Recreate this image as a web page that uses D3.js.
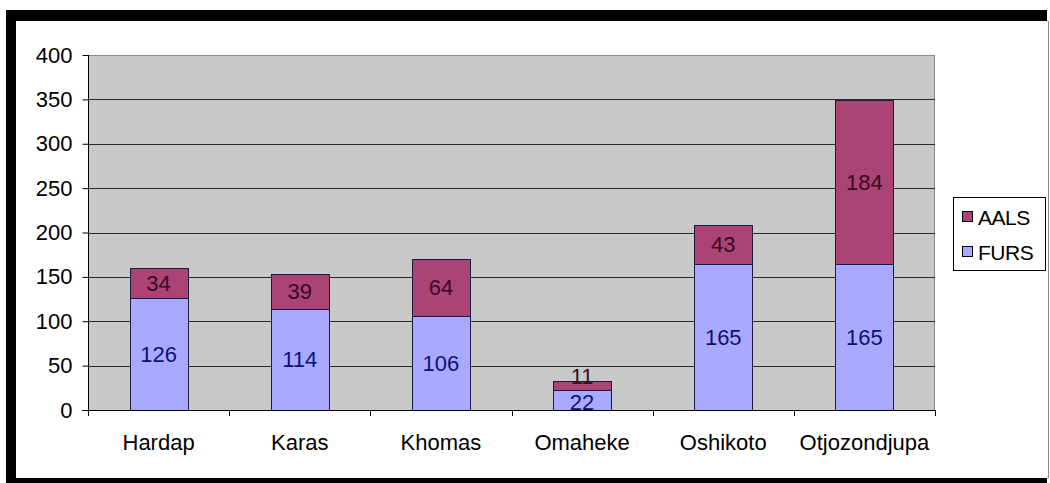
<!DOCTYPE html>
<html><head><meta charset="utf-8">
<script src="https://cdn.jsdelivr.net/npm/d3@7"></script>
<style>html,body{margin:0;padding:0;background:#fff;}svg{display:block;}</style>
</head><body>
<svg id="c" width="1050" height="483"></svg>
<script>
const categories = ["Hardap","Karas","Khomas","Omaheke","Oshikoto","Otjozondjupa"];
const fursValues = [126,114,106,22,165,165];
const aalsValues = [34,39,64,11,43,184];
const seriesNames = ["FURS","AALS"];
const yTicks = [0,50,100,150,200,250,300,350,400];

const svg = d3.select("#c");
const font = "'Liberation Sans', Arial, sans-serif";
const fs = 22;

// frame
svg.append("rect").attr("x",6).attr("y",10).attr("width",1041).attr("height",473).attr("fill","#000");
svg.append("rect").attr("x",16).attr("y",21).attr("width",1031).attr("height",457).attr("fill","#fff");
svg.append("rect").attr("x",1047).attr("y",10).attr("width",3).attr("height",473).attr("fill","#fff");
svg.append("line").attr("x1",1048.5).attr("x2",1048.5).attr("y1",21).attr("y2",478).attr("stroke","#888").attr("stroke-width",1);

const L=88, R=935, T=55, B=410;
const x = d3.scaleBand().domain(categories).range([L,R]);
const y = d3.scaleLinear().domain([0,400]).range([B,T]);

svg.append("rect").attr("x",L).attr("y",T).attr("width",R-L).attr("height",B-T).attr("fill","#c9c9c9");
svg.append("path").attr("d",`M${L},${T+0.5}H${R-0.5}V${B}`).attr("fill","none").attr("stroke","#8a8a8a");

// gridlines
svg.append("g").selectAll("line").data(yTicks.filter(d=>d>0&&d<400)).join("line")
  .attr("x1",L).attr("x2",R).attr("y1",d=>Math.round(y(d))+0.5).attr("y2",d=>Math.round(y(d))+0.5)
  .attr("stroke","#2a2a2a").attr("stroke-width",1);

const stack = d3.stack().keys(["FURS","AALS"])(categories.map((c,i)=>({cat:c,FURS:fursValues[i],AALS:aalsValues[i]})));
const fills = {FURS:"#a9a9ff", AALS:"#ab4474"};
const txtCol = {FURS:"#101070", AALS:"#3a0a22"};
const bw = 58;
const cx = c => x(c)+x.bandwidth()/2;

stack.forEach(layer=>{
  const k = layer.key;
  const g = svg.append("g");
  g.selectAll("rect").data(layer).join("rect")
    .attr("x",d=>Math.round(cx(d.data.cat)-bw/2)+0.5)
    .attr("y",d=>Math.round(y(d[1]))+0.5)
    .attr("width",bw)
    .attr("height",d=>Math.round(y(d[0]))-Math.round(y(d[1])))
    .attr("fill",fills[k]).attr("stroke","#1a1a40").attr("stroke-width",1);
  g.selectAll("text").data(layer).join("text")
    .attr("x",d=>cx(d.data.cat))
    .attr("y",d=>{
      const h = y(d[0])-y(d[1]);
      if (k==="AALS" && h<20) return y(d[1])-5;
      return (y(d[0])+y(d[1]))/2 + (k==="FURS" && h<20 ? 2 : 0);
    })
    .attr("dy","0.36em").attr("text-anchor","middle")
    .attr("font-family",font).attr("font-size",fs)
    .attr("fill",txtCol[k]).text(d=>d[1]-d[0]);
});

// axes
const yAxis = d3.axisLeft(y).tickValues(yTicks).tickSize(6).tickPadding(10);
const ga = svg.append("g").attr("transform",`translate(${L+0.5},0)`).call(yAxis);
ga.select(".domain").attr("stroke","#000").attr("d",`M0,${T}V${B+1}`);
ga.selectAll(".tick line").attr("stroke","#000");
ga.selectAll("text").attr("font-family",font).attr("font-size",fs).attr("fill","#000");

const xb = svg.append("g");
xb.append("line").attr("x1",L-6).attr("x2",R).attr("y1",B+0.5).attr("y2",B+0.5).attr("stroke","#000");
xb.selectAll("line.t").data(d3.range(categories.length+1)).join("line").attr("class","t")
  .attr("x1",i=>Math.round(L+i*x.step())+0.5).attr("x2",i=>Math.round(L+i*x.step())+0.5)
  .attr("y1",B).attr("y2",B+6).attr("stroke","#000");
xb.selectAll("text").data(categories).join("text")
  .attr("x",d=>cx(d)).attr("y",450).attr("text-anchor","middle")
  .attr("font-family",font).attr("font-size",fs).attr("fill","#000").text(d=>d);

// legend
const lg = svg.append("g");
lg.append("rect").attr("x",953.5).attr("y",197.5).attr("width",92).attr("height",73).attr("fill","#fff").attr("stroke","#000");
const legItems = [{k:"AALS",y:217},{k:"FURS",y:252}];
legItems.forEach(it=>{
  lg.append("rect").attr("x",962.5).attr("y",it.y-5.5).attr("width",10).attr("height",10).attr("fill",fills[it.k]).attr("stroke","#000");
  lg.append("text").attr("x",978).attr("y",it.y).attr("dy","0.36em").attr("font-family",font).attr("font-size",21)
    .attr("letter-spacing","-0.5").attr("fill","#000").text(it.k);
});
</script>
</body></html>
